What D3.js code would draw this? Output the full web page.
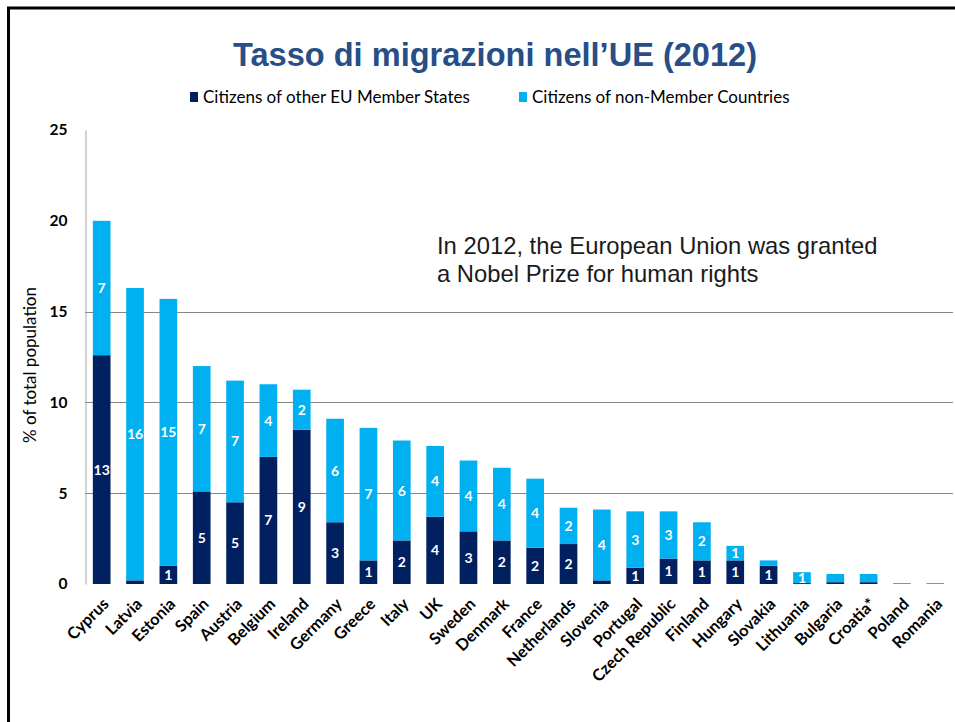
<!DOCTYPE html>
<html>
<head>
<meta charset="utf-8">
<script src="https://cdn.jsdelivr.net/npm/d3@7"></script>
<style>
  html, body { margin: 0; padding: 0; background: #fff; }
  svg { display: block; }
</style>
</head>
<body>
<svg id="chart" width="955" height="722"></svg>
<script>
const countries = ["Cyprus","Latvia","Estonia","Spain","Austria","Belgium","Ireland","Germany","Greece","Italy","UK","Sweden","Denmark","France","Netherlands","Slovenia","Portugal","Czech Republic","Finland","Hungary","Slovakia","Lithuania","Bulgaria","Croatia*","Poland","Romania"];
const euCitizens = [12.6, 0.2, 1.0, 5.1, 4.5, 7.0, 8.5, 3.4, 1.3, 2.4, 3.7, 2.9, 2.4, 2.0, 2.2, 0.2, 0.9, 1.4, 1.3, 1.3, 1.0, 0.05, 0.1, 0.1, 0.0, 0.0];
const nonEuCitizens = [7.4, 16.1, 14.7, 6.9, 6.7, 4.0, 2.2, 5.7, 7.3, 5.5, 3.9, 3.9, 4.0, 3.8, 2.0, 3.9, 3.1, 2.6, 2.1, 0.8, 0.3, 0.6, 0.45, 0.45, 0.05, 0.05];
const seriesNames = ["Citizens of other EU Member States", "Citizens of non-Member Countries"];
const seriesColors = ["#002060", "#00B0F0"];
const yTicks = [0, 5, 10, 15, 20, 25];
const gridTicks = [5, 10, 15];
const titleText = "Tasso di migrazioni nell\u2019UE (2012)";
const yTitle = "% of total population";
const noteLines = ["In 2012, the European Union was granted", "a Nobel Prize for human rights"];

const svg = d3.select("#chart");
const FONT = "Lato, 'Open Sans', sans-serif";

// frame
svg.append("line").attr("x1", 8.5).attr("x2", 8.5).attr("y1", 7).attr("y2", 722)
  .attr("stroke", "#000").attr("stroke-width", 3);
svg.append("line").attr("x1", 7).attr("x2", 955).attr("y1", 8).attr("y2", 8)
  .attr("stroke", "#000").attr("stroke-width", 3);

const x = d3.scaleBand().domain(countries).range([85, 952]).paddingInner(0.47).paddingOuter(0.235);
const y = d3.scaleLinear().domain([0, 25]).range([584, 130]);

// gridlines
svg.append("g").selectAll("line").data(gridTicks).join("line")
  .attr("x1", 85).attr("x2", 953)
  .attr("y1", d => Math.round(y(d)) + 0.5).attr("y2", d => Math.round(y(d)) + 0.5)
  .attr("stroke", "#868686").attr("stroke-width", 1);

// y axis
const yAxis = d3.axisLeft(y).tickValues(yTicks).tickSize(0).tickPadding(18);
const gy = svg.append("g").attr("transform", "translate(85.5,0)").call(yAxis);
gy.select(".domain").attr("stroke", "#A6A6A6");
gy.selectAll("text").attr("font-family", FONT).attr("font-weight", "bold")
  .attr("font-size", 15.5).attr("fill", "#000");

// stacked data
const table = countries.map((c, i) => ({ country: c, eu: euCitizens[i], non: nonEuCitizens[i] }));
const stack = d3.stack().keys(["eu", "non"]);
const layers = stack(table);

const gBars = svg.append("g");
layers.forEach((layer, li) => {
  gBars.append("g").selectAll("rect").data(layer).join("rect")
    .attr("x", d => x(d.data.country))
    .attr("width", x.bandwidth())
    .attr("y", d => y(d[1]))
    .attr("height", d => Math.max(0, y(d[0]) - y(d[1])))
    .attr("fill", seriesColors[li]);
});

// value labels
layers.forEach((layer) => {
  gBars.append("g").selectAll("text").data(layer.filter(d => Math.round(d[1] - d[0]) > 0)).join("text")
    .attr("x", d => x(d.data.country) + x.bandwidth() / 2)
    .attr("y", d => (y(d[0]) + y(d[1])) / 2)
    .attr("dy", "0.36em")
    .attr("text-anchor", "middle")
    .attr("font-family", FONT).attr("font-weight", "bold").attr("font-size", 14)
    .attr("fill", "#fff")
    .text(d => Math.round(d[1] - d[0]));
});

// x labels
svg.append("g").selectAll("text").data(countries).join("text")
  .attr("transform", d => `translate(${x(d) + x.bandwidth() / 2 + 4},${601}) rotate(-45)`)
  .attr("text-anchor", "end")
  .attr("dy", "0.35em")
  .attr("font-family", FONT).attr("font-weight", "bold").attr("font-size", 16.3)
  .attr("fill", "#000")
  .text(d => d);

// y title
svg.append("text")
  .attr("transform", "translate(36,365) rotate(-90)")
  .attr("text-anchor", "middle")
  .attr("font-family", FONT).attr("font-size", 17).attr("fill", "#000")
  .text(yTitle);

// title
svg.append("text")
  .attr("x", 495).attr("y", 66)
  .attr("text-anchor", "middle")
  .attr("font-family", "'Liberation Sans Narrow', 'Arial Narrow', 'Liberation Sans', sans-serif")
  .attr("font-weight", "bold").attr("font-size", 34)
  .attr("fill", "#284E87")
  .attr("textLength", 524).attr("lengthAdjust", "spacingAndGlyphs")
  .text(titleText);

// legend
const legendX = [190, 519];
const lg = svg.append("g");
seriesNames.forEach((name, i) => {
  lg.append("rect").attr("x", legendX[i]).attr("y", 92).attr("width", 8).attr("height", 10)
    .attr("fill", seriesColors[i]);
  lg.append("text").attr("x", legendX[i] + 13).attr("y", 97).attr("dy", "0.35em")
    .attr("font-family", FONT).attr("font-size", 17).attr("fill", "#000")
    .text(name);
});

// note
svg.append("g").selectAll("text").data(noteLines).join("text")
  .attr("x", 437).attr("y", (d, i) => 254 + i * 28)
  .attr("font-family", "'Liberation Sans', Arial, sans-serif")
  .attr("font-size", 23.8).attr("fill", "#1a1a1a")
  .text(d => d);
</script>
</body>
</html>
